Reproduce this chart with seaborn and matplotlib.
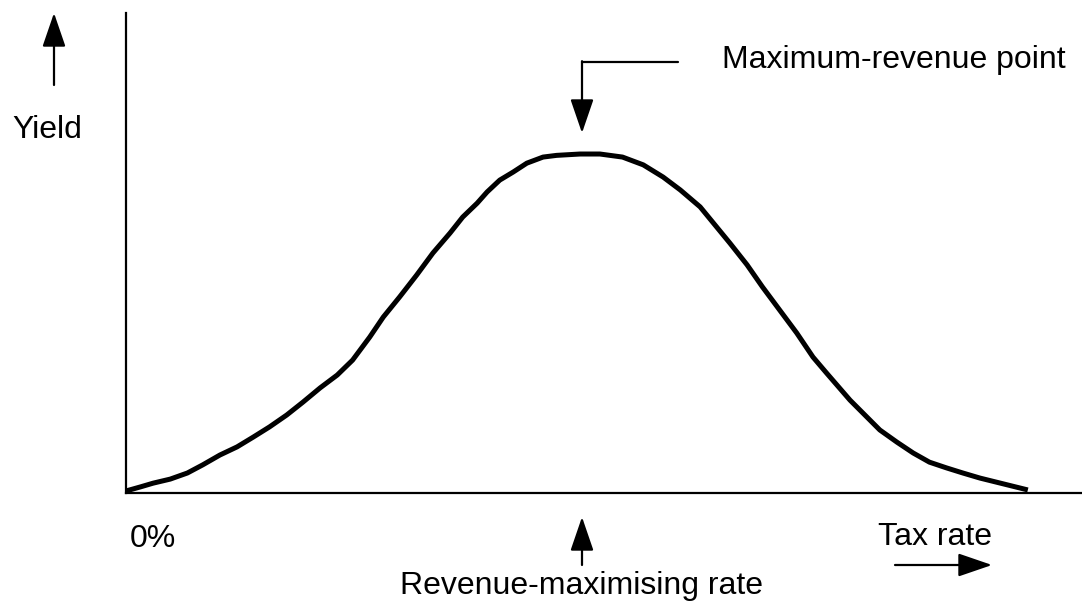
import matplotlib
matplotlib.use('Agg')
import matplotlib.pyplot as plt
import seaborn as sns
import pandas as pd

# Laffer curve (tax rate %, yield relative to peak = 100)
tax_rate = [0, 1.6, 3.0, 4.9, 6.8, 8.5, 10.4, 12.3, 14.1, 15.9, 17.8, 19.6, 21.5,
            23.4, 25.1, 27.0, 28.5, 30.3, 32.2, 34.0, 35.9, 37.3, 38.9, 40.0, 41.4,
            42.9, 44.4, 46.2, 47.7, 50.3, 52.5, 55.0, 57.3, 59.5, 61.4, 63.6, 66.9,
            68.8, 70.5, 72.4, 74.3, 76.1, 77.6, 80.2, 83.5, 85.4, 87.2, 89.0, 90.9,
            92.7, 94.6, 99.9]
yield_ = [0.6, 1.8, 2.9, 4.1, 5.9, 8.3, 11.2, 13.6, 16.5, 19.5, 23.0, 26.8, 31.0,
          34.8, 39.2, 46.0, 51.9, 57.8, 64.3, 70.8, 76.7, 81.4, 85.5, 88.8, 92.3,
          94.7, 97.3, 99.1, 99.6, 100.0, 100.0, 99.1, 96.8, 93.2, 89.4, 84.4, 73.7,
          67.3, 60.8, 54.0, 47.2, 40.1, 35.4, 27.4, 18.6, 15.0, 11.8, 9.1, 7.4,
          5.9, 4.4, 0.9]

y_label = 'Yield'
x_label = 'Tax rate'
origin_label = '0%'
peak_label = 'Maximum-revenue point'
rate_label = 'Revenue-maximising rate'

df = pd.DataFrame({'rate': tax_rate, 'yield': yield_})

sns.set_style('white')
plt.rcParams['font.family'] = ['Liberation Sans', 'DejaVu Sans']
plt.rcParams['text.color'] = 'black'

W, H = 1082, 601
fig = plt.figure(figsize=(W / 100, H / 100), dpi=100)
ax = fig.add_axes([126 / W, (H - 493) / H, (W - 126) / W, (493 - 13) / H])

sns.lineplot(data=df, x='rate', y='yield', ax=ax, color='black', linewidth=3.6,
             solid_capstyle='butt', solid_joinstyle='round')

ax.set_xlim(0, 105.9)
ax.set_ylim(0, 141.6)
ax.set_xticks([])
ax.set_yticks([])
ax.set_xlabel('')
ax.set_ylabel('')
for side in ['top', 'right']:
    ax.spines[side].set_visible(False)
for side in ['left', 'bottom']:
    ax.spines[side].set_color('black')
    ax.spines[side].set_linewidth(1.6)


def px(x, y):
    # figure pixels with origin top-left
    return (x, H - y)


def arrow(tail, tip):
    ax.annotate('', xy=px(*tip), xytext=px(*tail), xycoords='figure pixels',
                textcoords='figure pixels', annotation_clip=False,
                arrowprops=dict(arrowstyle='-|>,head_length=2.1,head_width=0.72',
                                mutation_scale=10, lw=1.6, color='black',
                                shrinkA=0, shrinkB=0))


fs = 23

# y-axis label with arrow
arrow((54, 85), (54, 13))
fig.text(12 / W, 1 - 138 / H, y_label, fontsize=fs, color='black', ha='left', va='baseline')

# peak annotation with bent arrow
fig.add_artist(plt.Line2D([678 / W, 582 / W], [1 - 62 / H, 1 - 62 / H],
                          color='black', lw=1.6, transform=fig.transFigure))
arrow((582, 61.2), (582, 133))
fig.text(722 / W, 1 - 68 / H, peak_label, fontsize=fs, color='black', ha='left', va='baseline')

# x-axis texts
fig.text(130 / W, 1 - 547 / H, origin_label, fontsize=fs, color='black', ha='left', va='baseline')
fig.text(878 / W, 1 - 545 / H, x_label, fontsize=fs, color='black', ha='left', va='baseline')
arrow((895, 565), (992, 565))

# revenue-maximising rate
arrow((582, 565), (582, 517))
fig.text(582 / W, 1 - 594 / H, rate_label, fontsize=fs, color='black', ha='center', va='baseline')

fig.savefig('out.png', dpi=100, facecolor='white')
